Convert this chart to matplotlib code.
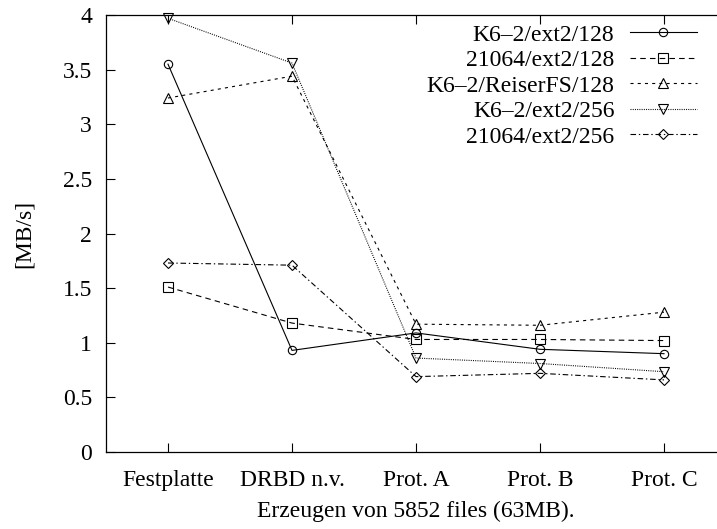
import matplotlib
matplotlib.use('Agg')
import matplotlib.pyplot as plt

plt.rcParams['font.family'] = ['Liberation Serif', 'DejaVu Serif']
plt.rcParams['lines.scale_dashes'] = False

categories = ['Festplatte', 'DRBD n.v.', 'Prot. A', 'Prot. B', 'Prot. C']
k62_ext2_128 = [3.55, 0.93, 1.09, 0.94, 0.90]
a21064_ext2_128 = [1.51, 1.18, 1.03, 1.03, 1.02]
k62_reiser_128 = [3.24, 3.44, 1.17, 1.16, 1.28]
k62_ext2_256 = [3.97, 3.56, 0.86, 0.81, 0.735]
a21064_ext2_256 = [1.73, 1.71, 0.69, 0.72, 0.66]

labels = ['K6\u20132/ext2/128', '21064/ext2/128', 'K6\u20132/ReiserFS/128',
          'K6\u20132/ext2/256', '21064/ext2/256']
series = [k62_ext2_128, a21064_ext2_128, k62_reiser_128, k62_ext2_256, a21064_ext2_256]
markers = ['o', 's', '^', 'v', 'D']
msizes = [6, 6.5, 6.5, 6.5, 5]
styles = ['-', (0, (4, 3)), (0, (2.2, 3)), (0, (0.7, 0.9)), (0, (4, 2, 1, 2))]

fig = plt.figure(figsize=(7.17, 5.29), dpi=100)
ax = fig.add_axes([106/717, 77/529, 620/717, 437/529])

x = list(range(len(categories)))
for vals, lab, m, ms, ls in zip(series, labels, markers, msizes, styles):
    ax.plot(x, vals, color='black', lw=0.8, linestyle=ls, marker=m, ms=ms,
            mfc='none', mec='black', mew=0.8, label=lab, clip_on=False)

ax.set_xlim(-0.5, 4.5)
ax.set_ylim(0, 4)
ax.set_xticks(x)
ax.set_xticklabels(categories)
ax.set_yticks([0, 0.5, 1, 1.5, 2, 2.5, 3, 3.5, 4])
ax.set_yticklabels(['0', '0.5', '1', '1.5', '2', '2.5', '3', '3.5', '4'])
ax.tick_params(direction='in', length=6.5, width=0.8, labelsize=17,
               top=True, right=True, pad=10)
ax.tick_params(axis='x', pad=13)
for s in ax.spines.values():
    s.set_linewidth(0.9)

ax.set_ylabel('[MB/s]', fontsize=17, labelpad=20)
ax.set_xlabel('Erzeugen von 5852 files (63MB).', fontsize=17, labelpad=7)

leg = ax.legend(loc='upper right', bbox_to_anchor=(697/717, 1 - 24/529),
                bbox_transform=fig.transFigure, frameon=False, fontsize=17,
                markerfirst=False, handlelength=2.85, handletextpad=0.65,
                labelspacing=0.17, borderpad=0, borderaxespad=0)
leg._legend_handle_box.get_children()[0].align = 'right'

fig.savefig('out.png', dpi=100)
